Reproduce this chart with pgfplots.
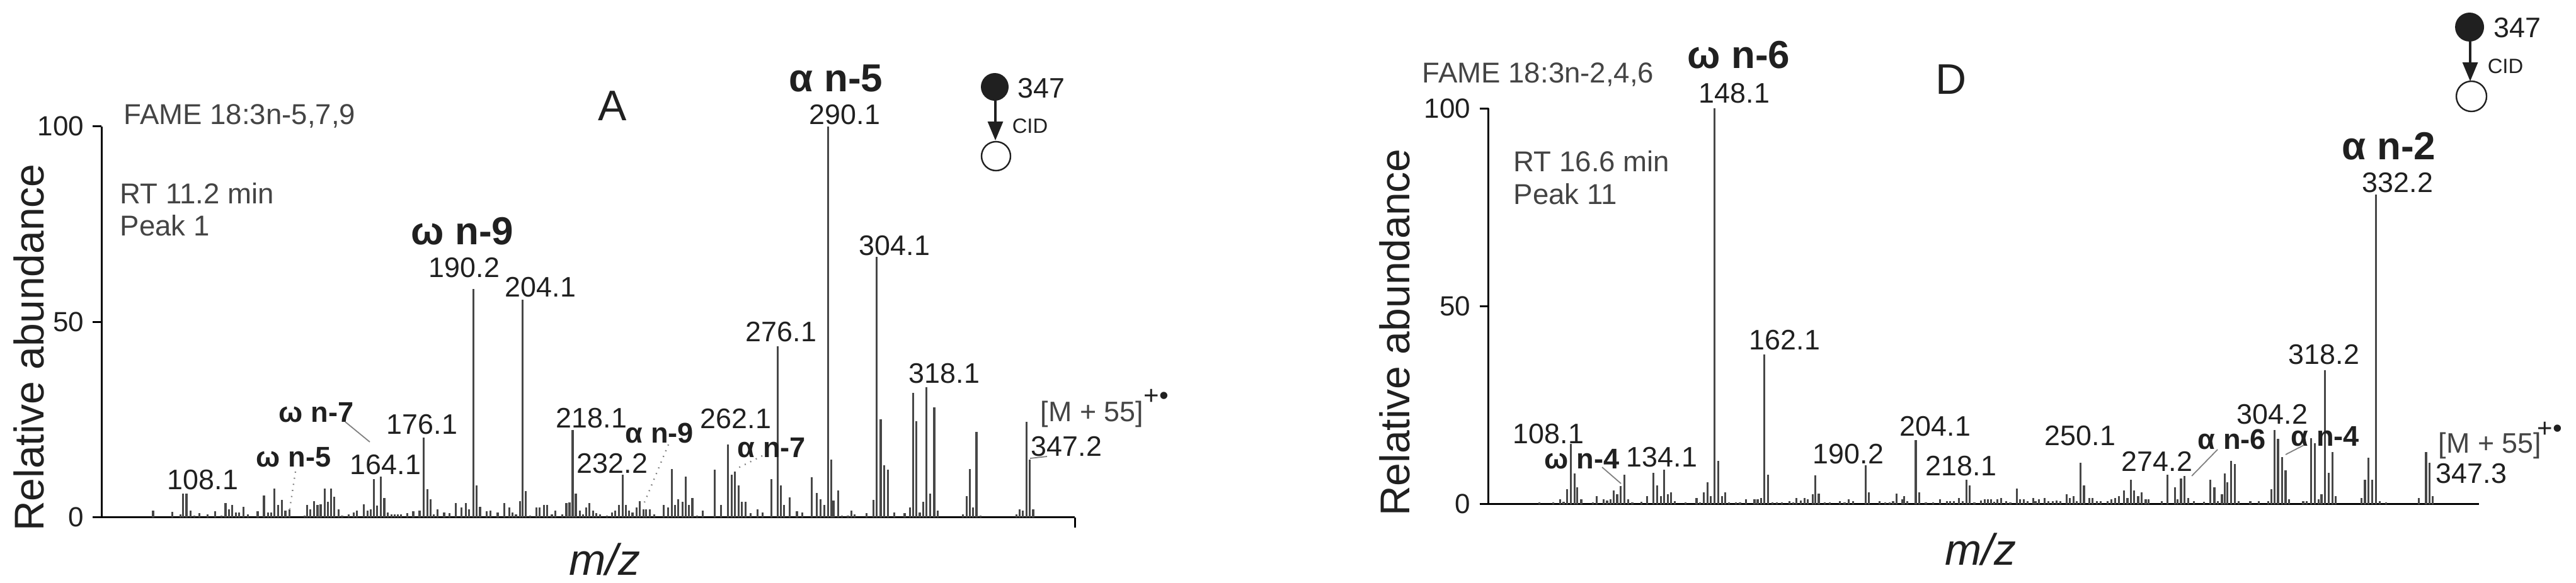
\documentclass[border=0pt]{standalone}
\usepackage{fontspec}
\setmainfont{Liberation Sans}
\usepackage{pgfplots}
\usepackage{pgfplotstable}
\pgfplotsset{compat=1.18}
\usetikzlibrary{arrows.meta}
\definecolor{pk}{HTML}{474747}
\definecolor{txt}{HTML}{202020}
\definecolor{lbl}{HTML}{444444}

\pgfplotstableread{
x y
99.1 1.8
104.5 1.4
106.9 0.8
107.6 6.1
108.6 6.1
109.8 1.8
110.8 0.5
112.3 1.1
114.6 0.7
116.7 1.5
118.5 0.5
119.7 3.6
120.6 2.1
121.5 3.1
122.7 1.3
123.5 1.3
124.8 2.7
126.0 0.7
128.8 1.5
130.6 5.6
131.8 1.3
132.7 1.3
133.6 7.4
134.6 3.1
135.7 4.4
136.7 1.8
137.9 2.0
142.1 0.5
142.9 3.1
143.8 2.1
144.8 4.2
145.8 3.1
146.7 3.4
147.8 7.4
148.7 3.9
149.7 7.4
150.6 5.3
151.8 2.0
152.8 0.5
154.6 0.8
156.1 1.3
157.0 1.8
158.9 3.3
160.0 1.8
160.9 2.0
161.8 9.7
162.7 3.0
163.8 10.5
164.8 5.0
165.8 1.3
166.9 0.8
167.8 0.8
168.7 0.8
169.5 0.8
171.3 1.1
173.0 1.6
174.8 1.8
176.0 20.4
177.0 7.2
177.9 4.6
178.8 0.7
179.9 2.1
181.8 1.3
183.3 1.1
185.1 3.6
186.7 2.6
188.0 3.6
188.9 2.1
190.1 58.4
191.0 8.2
192.0 2.7
193.9 1.5
195.0 1.8
197.0 1.3
198.9 3.6
200.3 2.6
201.2 1.3
202.2 0.8
203.3 4.1
204.1 55.6
205.0 6.7
206.2 0.5
208.0 2.6
208.9 2.6
210.1 3.1
211.0 3.1
212.4 0.7
213.4 1.8
215.3 0.8
216.5 3.6
217.4 3.8
218.3 22.3
219.2 6.1
220.3 1.8
221.2 0.7
222.1 2.6
223.1 3.6
224.1 1.8
225.0 1.1
226.1 0.7
228.0 0.5
229.5 1.2
230.4 1.8
231.4 3.1
232.5 10.9
233.4 3.1
234.3 1.8
235.3 1.3
236.4 2.6
237.3 4.2
238.4 2.1
239.2 2.0
240.2 2.0
241.4 0.8
244.1 3.1
245.4 2.6
246.5 12.3
247.4 3.1
248.3 4.7
249.5 3.9
250.4 10.5
251.3 3.1
252.3 5.0
253.7 0.5
255.2 1.8
258.6 12.2
260.5 3.2
262.4 18.6
263.5 10.9
264.4 11.7
265.4 8.2
266.3 4.0
267.4 4.0
268.9 1.1
270.8 2.0
272.2 1.3
274.7 9.7
276.5 43.8
277.5 8.2
278.4 3.1
280.0 5.1
282.0 1.6
283.5 1.3
286.2 10.2
287.7 6.3
288.7 4.6
289.8 3.1
290.8 100
291.7 14.8
292.4 4.3
293.7 6.9
294.8 0.5
296.5 0.5
297.5 1.8
298.4 0.8
301.8 1.1
303.8 4.5
304.7 66.6
305.8 25.0
306.8 13.3
307.8 12.2
309.6 1.3
312.6 1.1
314.1 2.6
315.0 31.9
315.9 24.6
316.9 1.3
317.9 4.0
318.8 33.3
319.9 6.1
321.0 28.1
322.0 1.8
329.1 0.8
330.2 5.5
331.1 12.3
332.0 2.6
333.0 21.8
334.1 0.5
344.4 0.7
345.3 2.1
346.2 1.8
347.2 24.5
348.2 14.8
349.1 2.1
}\specA

\pgfplotstableread{
x y
99.4 0.4
103.3 0.4
105.2 1.3
106.2 0.6
107.1 3.8
108.2 15.3
109.2 7.8
110.0 4.2
111.1 1.2
114.4 0.4
115.4 2.1
117.3 1.2
118.3 0.9
119.3 1.2
120.2 3.4
121.1 2.5
122.1 4.6
123.1 7.4
124.1 1.2
125.3 0.4
127.9 0.6
129.4 2.1
131.2 7.9
132.2 4.8
133.3 2.1
134.2 8.7
135.2 2.5
136.1 3.0
137.2 0.7
140.1 0.4
143.2 1.6
144.2 0.4
145.2 2.9
146.2 5.6
147.1 2.1
148.2 100
149.2 11.0
150.3 2.1
151.2 3.0
152.2 0.4
154.1 0.4
155.3 0.4
157.0 1.2
159.3 1.3
160.2 1.2
161.1 1.6
162.1 37.9
163.1 7.5
164.3 0.5
165.5 0.4
166.9 0.4
169.1 0.7
170.1 0.5
171.0 1.6
172.2 0.9
173.3 1.6
174.2 1.2
175.6 2.5
176.2 7.2
177.2 2.6
178.9 0.4
180.3 0.4
183.1 0.7
184.4 0.4
185.5 1.2
186.7 0.7
190.2 9.8
191.2 3.0
194.1 0.7
195.7 0.5
196.9 0.5
197.9 0.7
198.9 2.6
200.4 1.2
201.0 2.1
201.9 0.7
204.2 16.2
205.2 3.0
207.0 0.4
209.0 0.4
210.9 1.2
212.9 0.7
213.8 0.7
214.8 0.7
216.2 1.6
217.3 0.7
218.3 6.1
219.2 4.8
220.5 0.4
222.4 0.9
223.4 1.2
224.3 1.2
225.1 1.2
226.0 0.6
226.9 1.2
227.9 1.6
229.4 0.7
230.5 0.4
232.3 3.9
233.2 1.2
234.2 1.2
235.3 0.7
236.9 1.6
237.5 0.7
238.5 1.2
240.0 1.6
241.1 0.7
242.3 0.7
243.4 0.9
244.4 0.7
246.2 2.5
247.1 1.6
248.1 2.1
249.0 0.7
250.1 10.4
251.0 4.8
252.5 1.6
253.4 1.6
254.6 0.7
255.6 0.7
257.6 0.7
258.6 1.2
259.7 1.6
260.7 2.1
262.2 3.4
263.1 1.6
264.0 6.2
265.0 3.4
266.1 2.1
267.1 3.0
268.2 1.2
269.0 1.2
272.6 0.7
274.2 7.5
276.3 4.3
277.1 1.2
278.0 6.5
279.0 7.1
280.0 1.6
281.6 0.7
284.4 0.6
286.2 6.1
287.3 4.3
288.3 0.7
289.4 2.5
290.2 7.8
290.9 5.5
292.0 11.0
293.0 10.2
294.1 0.7
297.3 0.7
299.7 0.7
302.3 0.7
303.2 3.7
304.0 18.7
305.0 16.5
306.1 11.9
307.1 8.6
308.1 1.2
312.0 0.7
313.0 0.7
314.2 16.7
315.3 15.4
316.3 1.2
317.1 2.5
318.1 33.8
319.1 7.9
320.2 13.2
321.1 2.1
328.2 1.6
329.2 6.1
330.2 11.8
331.2 6.1
332.3 78.2
333.3 0.7
335.0 0.4
344.2 1.6
346.2 13.2
347.2 10.4
348.1 2.1
}\specD

\pgfplotsset{
  ms/.style={
    scale only axis, anchor=south west, clip=false,
    axis x line=bottom, axis y line=left,
    axis line style={-, line width=0.7pt, black},
    xtick=\empty, ytick={0,50,100}, ymin=0, ymax=100,
    tick align=outside, major tick length=3.5pt,
    tick style={line width=0.7pt, black},
    yticklabel style={font=\fontsize{11}{13}\selectfont, text=txt},
    /pgf/number format/assume math mode=true,
  },
  spec/.style={ycomb, mark=none, pk, line width=0.8pt},
}

\tikzset{
  num/.style={font=\fontsize{11.2}{13}\selectfont, text=txt, inner sep=0pt},
  big/.style={font=\bfseries\fontsize{15.5}{17}\selectfont, text=txt, inner sep=0pt},
  sm/.style={font=\bfseries\fontsize{11.3}{13}\selectfont, text=txt, inner sep=0pt},
  info/.style={font=\fontsize{11.4}{13}\selectfont, text=lbl, inner sep=0pt, anchor=west},
  yl/.style={font=\fontsize{16.5}{18}\selectfont, text=txt, inner sep=0pt, rotate=90},
  mz/.style={font=\itshape\fontsize{17.5}{19}\selectfont, text=txt, inner sep=0pt},
  lead/.style={gray, line width=0.45pt},
  pan/.style={font=\fontsize{17}{19}\selectfont, text=txt, inner sep=0pt},
}

\begin{document}
\begin{tikzpicture}
\path[use as bounding box] (0,0) rectangle (1022.25pt,231.25pt);

\begin{axis}[ms, at={(40.35pt,25.825pt)}, width=386.25pt, height=155.25pt,
  xmin=84.5, xmax=361,
  extra x ticks={361}, extra x tick labels={},
  extra x tick style={tick align=outside, major tick length=4pt}]
\addplot[spec] table {\specA};
\end{axis}

\begin{axis}[ms, at={(590.625pt,31.075pt)}, width=393pt, height=157.1pt,
  xmin=85.25, xmax=360.85]
\addplot[spec] table {\specD};
\end{axis}

\begin{scope}[x=0.25pt, y=-0.25pt, yshift=231.25pt]
% ---------- Panel A ----------
\node[yl] at (46,552) {Relative abundance};
\node[mz] at (960,888) {m/z};
\node[info] at (196,184) {FAME 18:3n-5,7,9};
\node[info] at (190,307) {RT 11.2 min};
\node[info] at (190,358) {Peak 1};
\node[pan] at (972,168) {A};
\node[big] at (734,367) {ω n-9};
\node[num] at (737,425) {190.2};
\node[num] at (858,456) {204.1};
\node[num] at (670,674) {176.1};
\node[num] at (612,738) {164.1};
\node[sm] at (502,655) {ω n-7};
\node[sm] at (466,726) {ω n-5};
\node[num] at (322,762) {108.1};
\node[num] at (939,664) {218.1};
\node[num] at (972,736) {232.2};
\node[sm] at (1047,688) {α n-9};
\node[num] at (1168,665) {262.1};
\node[sm] at (1225,711) {α n-7};
\node[num] at (1240,527) {276.1};
\node[big] at (1327,124) {α n-5};
\node[num] at (1341,182) {290.1};
\node[num] at (1420,390) {304.1};
\node[num] at (1499,593) {318.1};
\node[num, anchor=west, text=lbl] at (1651,658) {[M + 55]};
\node[font=\fontsize{10.5}{11}\selectfont, text=txt, inner sep=0pt, anchor=west] at (1815,630) {+\textbullet};
\node[num] at (1693,709) {347.2};
\draw[lead] (548,670) -- (587,702);
\draw[lead, dotted, line width=0.6pt] (469,749) -- (460,808);
\draw[lead, dotted, line width=0.6pt] (1061,706) -- (1023,798);
\draw[lead, dotted, line width=0.6pt] (1210,724) -- (1172,743);
\draw[lead] (1635,728) -- (1662,725);
% precursor icon A
\fill[txt] (1579,138) circle[radius=22];
\node[num] at (1653,140) {347};
\draw[txt, line width=0.8pt, -{Triangle[length=7.5pt,width=6pt]}] (1580,158) -- (1580,223);
\node[font=\fontsize{8.2}{9}\selectfont, text=txt, inner sep=0pt] at (1635,200) {CID};
\draw[txt, line width=0.6pt] (1581,248) circle[radius=23];

% ---------- Panel D ----------
\node[yl] at (2214,528) {Relative abundance};
\node[mz] at (3144,872) {m/z};
\node[info] at (2257,118) {FAME 18:3n-2,4,6};
\node[info] at (2402,256) {RT 16.6 min};
\node[info] at (2402,308) {Peak 11};
\node[pan] at (3097,126) {D};
\node[big] at (2760,87) {ω n-6};
\node[num] at (2753,148) {148.1};
\node[num] at (2833,540) {162.1};
\node[num] at (2458,689) {108.1};
\node[sm] at (2511,729) {ω n-4};
\node[num] at (2638,726) {134.1};
\node[num] at (2934,721) {190.2};
\node[num] at (3072,677) {204.1};
\node[num] at (3113,740) {218.1};
\node[num] at (3302,692) {250.1};
\node[num] at (3424,733) {274.2};
\node[sm] at (3543,698) {α n-6};
\node[num] at (3607,658) {304.2};
\node[sm] at (3691,693) {α n-4};
\node[num] at (3689,563) {318.2};
\node[big] at (3792,232) {α n-2};
\node[num] at (3806,290) {332.2};
\node[num, anchor=west, text=lbl] at (3870,708) {[M + 55]};
\node[font=\fontsize{10.5}{11}\selectfont, text=txt, inner sep=0pt, anchor=west] at (4027,682) {+\textbullet};
\node[num] at (3923,752) {347.3};
\draw[lead] (2543,742) -- (2573,768);
\draw[lead] (3520,714) -- (3479,756);
\draw[lead] (3657,707) -- (3628,722);
% precursor icon D
\fill[txt] (3920,43) circle[radius=23];
\node[num] at (3996,44) {347};
\draw[txt, line width=0.8pt, -{Triangle[length=7.5pt,width=6pt]}] (3921,64) -- (3921,129);
\node[font=\fontsize{8.2}{9}\selectfont, text=txt, inner sep=0pt] at (3977,105) {CID};
\draw[txt, line width=0.6pt] (3923,153) circle[radius=24];
\end{scope}
\end{tikzpicture}
\end{document}
